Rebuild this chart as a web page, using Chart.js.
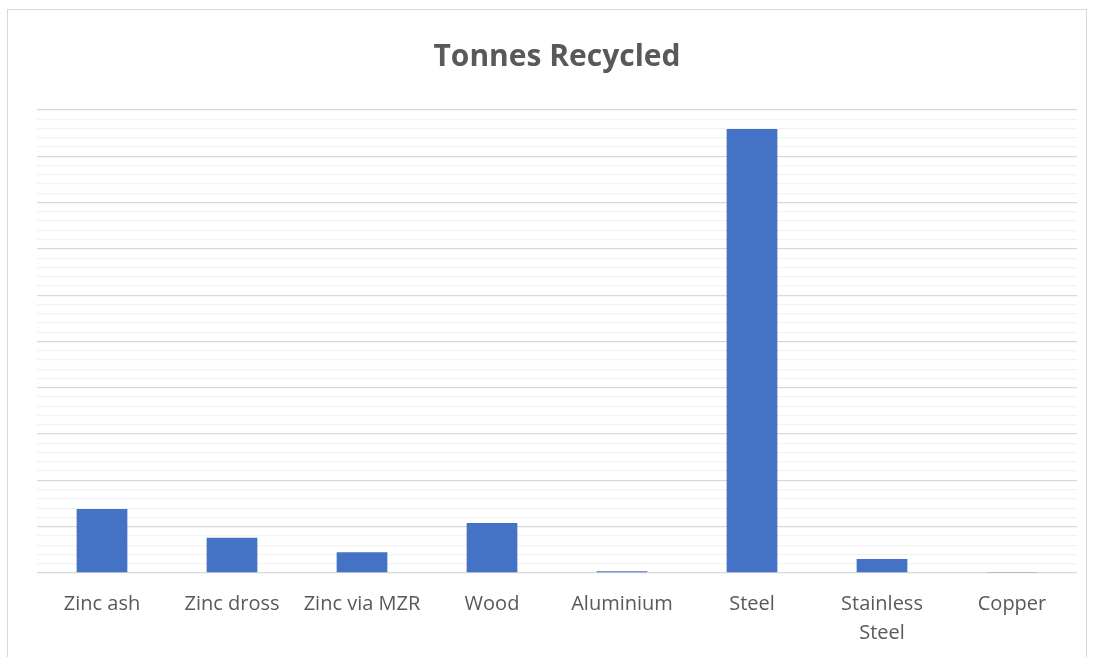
<!DOCTYPE html>
<html>
<head>
<meta charset="utf-8">
<script src="https://cdn.jsdelivr.net/npm/chart.js@4"></script>
<style>
html,body{margin:0;padding:0;background:#fff;overflow:hidden;width:1094px;height:657px;}
#wrap{position:absolute;left:0;top:0;width:1094px;height:686px;}
#frame{position:absolute;left:7px;top:9px;width:1080px;height:700px;border:1px solid #d9d9d9;box-sizing:border-box;pointer-events:none;}
</style>
</head>
<body>
<div id="wrap"><canvas id="c" width="1094" height="686"></canvas></div>
<div id="frame"></div>
<script>
const title = 'Tonnes Recycled';
const categories = ['Zinc ash', 'Zinc dross', 'Zinc via MZR', 'Wood', 'Aluminium', 'Steel', ['Stainless', 'Steel'], 'Copper'];
const tonnes = [1.38, 0.76, 0.45, 1.08, 0.04, 9.59, 0.30, 0.01];
const yMax = 10;
const minorStep = 0.2;
const majorEvery = 5;

new Chart(document.getElementById('c'), {
  type: 'bar',
  data: {
    labels: categories,
    datasets: [{
      data: tonnes,
      backgroundColor: '#4472c4',
      borderWidth: 0,
      barPercentage: 0.65,
      categoryPercentage: 0.6
    }]
  },
  options: {
    responsive: false,
    animation: false,
    devicePixelRatio: 1,
    layout: { padding: { left: 37, right: 17, top: 0, bottom: 21 } },
    plugins: {
      legend: { display: false },
      tooltip: { enabled: false },
      title: {
        display: true,
        text: title,
        color: '#595959',
        font: { family: 'Open Sans', size: 30, weight: 'bold' },
        padding: { top: 39, bottom: 35 }
      }
    },
    scales: {
      x: {
        grid: { display: false, drawTicks: false },
        border: { display: false },
        ticks: {
          color: '#595959',
          font: { family: 'Open Sans', size: 20, lineHeight: 1.45 },
          padding: 17,
          maxRotation: 0,
          autoSkip: false
        }
      },
      y: {
        min: 0,
        max: yMax,
        border: { display: false },
        ticks: { display: false, stepSize: minorStep },
        grid: {
          drawTicks: false,
          lineWidth: 1.3,
          color: (ctx) => {
            const v = ctx.tick ? ctx.tick.value : 0;
            const k = Math.round(v / minorStep);
            return (k % majorEvery === 0) ? '#d9d9d9' : '#f2f2f2';
          }
        }
      }
    }
  }
});
</script>
</body>
</html>
